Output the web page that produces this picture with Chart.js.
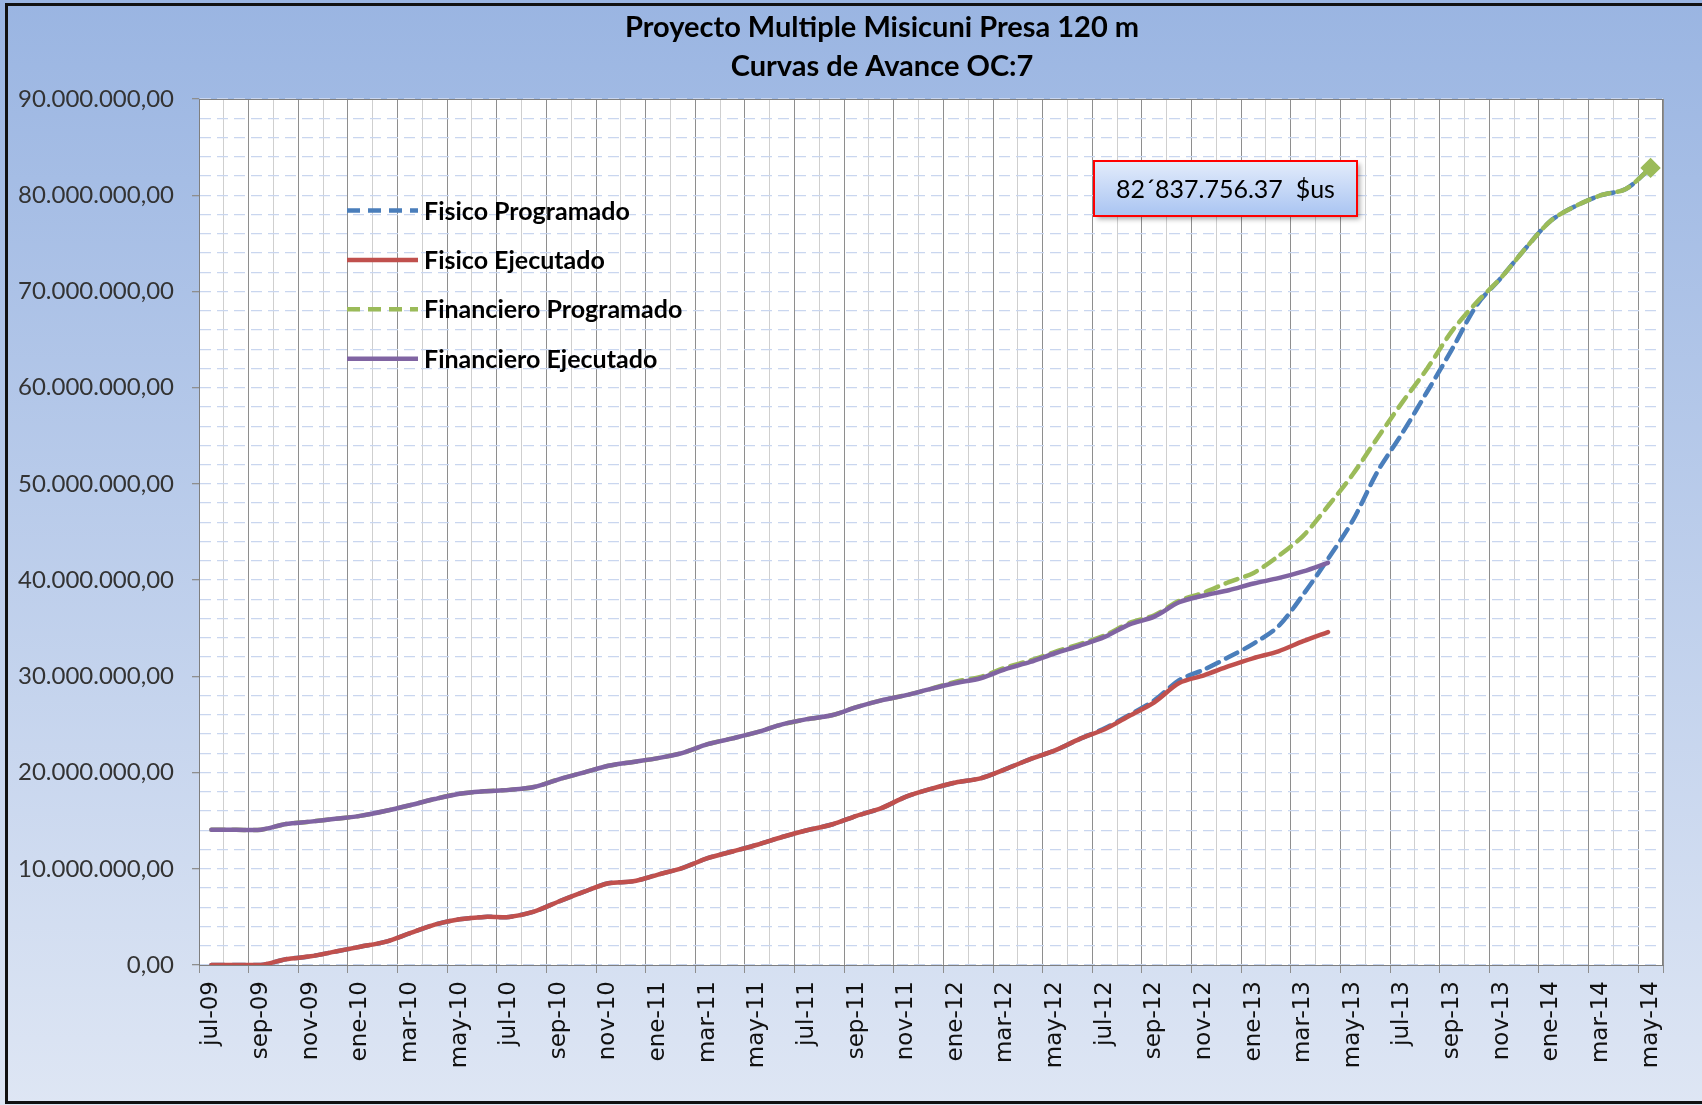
<!DOCTYPE html>
<html>
<head>
<meta charset="utf-8">
<title>Curvas de Avance OC:7</title>
<script src="https://cdn.jsdelivr.net/npm/chart.js@4.4.1/dist/chart.umd.min.js"></script>
<style>
  html, body { margin: 0; padding: 0; background: #ffffff; }
  #wrap { width: 1702px; height: 1105px; }
</style>
</head>
<body>
<div id="wrap"><canvas id="curvas" width="1702" height="1105"></canvas></div>
<script>
// datos (millones de $us), jul-09 .. may-14
const meses = [
  'jul-09','ago-09','sep-09','oct-09','nov-09','dic-09',
  'ene-10','feb-10','mar-10','abr-10','may-10','jun-10','jul-10','ago-10','sep-10','oct-10','nov-10','dic-10',
  'ene-11','feb-11','mar-11','abr-11','may-11','jun-11','jul-11','ago-11','sep-11','oct-11','nov-11','dic-11',
  'ene-12','feb-12','mar-12','abr-12','may-12','jun-12','jul-12','ago-12','sep-12','oct-12','nov-12','dic-12',
  'ene-13','feb-13','mar-13','abr-13','may-13','jun-13','jul-13','ago-13','sep-13','oct-13','nov-13','dic-13',
  'ene-14','feb-14','mar-14','abr-14','may-14'
];

const fisicoProgramado = [
  0, 0, 0, 0.6, 0.9, 1.4, 1.9, 2.4, 3.3, 4.2, 4.75, 5.0, 5.0, 5.55, 6.6, 7.6, 8.5, 8.7, 9.4, 10.1,
  11.1, 11.8, 12.5, 13.3, 14.0, 14.6, 15.5, 16.3, 17.5, 18.3, 18.97, 19.4, 20.35, 21.4, 22.3, 23.5,
  24.6, 26.0, 27.5, 29.6, 30.7, 32.0, 33.4, 35.2, 38.5, 42.2, 46.2, 51.3, 55.3, 59.6,
  64.0, 68.6, 71.5, 74.6, 77.4, 78.9, 80.0, 80.65, 82.84
];

const fisicoEjecutado = [
  0, 0, 0, 0.6, 0.9, 1.4, 1.9, 2.4, 3.3, 4.2, 4.75, 5.0, 5.0, 5.55, 6.6, 7.6, 8.5, 8.7, 9.4, 10.1,
  11.1, 11.8, 12.5, 13.3, 14.0, 14.6, 15.5, 16.3, 17.5, 18.3, 18.97, 19.4, 20.35, 21.4, 22.3, 23.5,
  24.5, 25.9, 27.3, 29.3, 30.1, 31.05, 31.9, 32.6, 33.65, 34.6
];

const financieroProgramado = [
  14.06, 14.06, 14.06, 14.65, 14.9, 15.2, 15.5, 16.0, 16.6, 17.25, 17.8, 18.05, 18.2, 18.5, 19.3, 20.0,
  20.7, 21.1, 21.5, 22.05, 22.95, 23.55, 24.2, 25.0, 25.55, 25.95, 26.8, 27.5, 28.05, 28.7,
  29.45, 29.95, 30.9, 31.65, 32.55, 33.35, 34.25, 35.55, 36.35, 37.85, 38.7, 39.8, 40.75, 42.5,
  44.6, 47.7, 51.0, 54.8, 58.5, 62.0, 65.9, 68.9, 71.5, 74.6, 77.4, 78.9, 80.0, 80.65, 82.84
];

const financieroEjecutado = [
  14.06, 14.06, 14.06, 14.65, 14.9, 15.2, 15.5, 16.0, 16.6, 17.25, 17.8, 18.05, 18.2, 18.5, 19.3, 20.0,
  20.7, 21.1, 21.5, 22.05, 22.95, 23.55, 24.2, 25.0, 25.55, 25.95, 26.8, 27.5, 28.05, 28.7,
  29.3, 29.8, 30.75, 31.5, 32.4, 33.2, 34.1, 35.4, 36.2, 37.7, 38.4, 38.95, 39.65, 40.2, 40.9, 41.8
];

const titulo = ['Proyecto Multiple Misicuni Presa 120 m', 'Curvas de Avance OC:7'];
const montoTotal = '82\u00B4837.756.37  $us';
const MILLON = 1000000;

const enDolares = arr => arr.map(v => v * MILLON);

// 90.000.000,00
function formatoNumero(v) {
  const ent = Math.round(v).toString().replace(/\B(?=(\d{3})+(?!\d))/g, '.');
  return ent + ',00';
}

const azul = '#4a7ebb', rojo = '#c0504d', verde = '#9bbb59', morado = '#8064a2';

// fondo degradado, marco negro y area blanca
const fondo = {
  id: 'fondo',
  beforeDraw(chart) {
    const { ctx, width, height, chartArea: a } = chart;
    ctx.save();
    const g = ctx.createLinearGradient(0, 0, 0, height);
    g.addColorStop(0, '#9ab5e2');
    g.addColorStop(1, '#dee6f4');
    ctx.fillStyle = g;
    ctx.fillRect(0, 0, width, height);
    ctx.fillStyle = '#ffffff';
    ctx.fillRect(a.left, a.top, a.right - a.left, a.bottom - a.top);
    ctx.strokeStyle = '#111111';
    ctx.lineWidth = 3;
    ctx.beginPath();
    ctx.moveTo(width + 5, 4.5);
    ctx.lineTo(6.5, 4.5);
    ctx.lineTo(6.5, height - 2.5);
    ctx.lineTo(width + 5, height - 2.5);
    ctx.stroke();

    // titulo en dos lineas (algo a la derecha del centro, como el original)
    ctx.fillStyle = '#000000';
    ctx.font = 'bold 29px Lato';
    ctx.textAlign = 'center';
    ctx.textBaseline = 'middle';
    ctx.fillText(titulo[0], 882, 28);
    ctx.fillText(titulo[1], 882, 67);
    ctx.restore();
  },
  beforeDatasetsDraw(chart) {
    const { ctx, chartArea: a } = chart;
    ctx.save();
    ctx.strokeStyle = '#7f7f7f';
    ctx.lineWidth = 1;
    ctx.strokeRect(a.left + 0.5, a.top + 0.5, a.right - a.left - 1, a.bottom - a.top);
    ctx.restore();
  }
};

// leyenda dentro del area de trazado
const leyenda = {
  id: 'leyenda',
  afterDatasetsDraw(chart) {
    const { ctx, chartArea: a } = chart;
    ctx.save();
    chart.data.datasets.forEach((ds, k) => {
      const y = a.top + 111.5 + k * 49.4;
      ctx.strokeStyle = ds.borderColor;
      ctx.lineWidth = 4.5;
      ctx.setLineDash(ds.borderDash || []);
      ctx.beginPath();
      ctx.moveTo(a.left + 148, y);
      ctx.lineTo(a.left + 219, y);
      ctx.stroke();
      ctx.setLineDash([]);
      ctx.fillStyle = '#000000';
      ctx.font = 'bold 25px Lato';
      ctx.textBaseline = 'middle';
      ctx.textAlign = 'left';
      ctx.fillText(ds.label, a.left + 225, y + 1);
    });
    ctx.restore();
  }
};

// cuadro con el monto total
const cuadroMonto = {
  id: 'cuadroMonto',
  afterDraw(chart) {
    const { ctx, chartArea: a } = chart;
    const x = a.left + 895, y = a.top + 62, w = 263, h = 55;
    ctx.save();
    ctx.shadowColor = 'rgba(0,0,0,0.35)';
    ctx.shadowBlur = 5;
    ctx.shadowOffsetX = 3;
    ctx.shadowOffsetY = 3;
    const g = ctx.createLinearGradient(0, y, 0, y + h);
    g.addColorStop(0, '#e3ecfb');
    g.addColorStop(1, '#a9c4f2');
    ctx.fillStyle = g;
    ctx.fillRect(x, y, w, h);
    ctx.shadowColor = 'transparent';
    ctx.strokeStyle = '#ff0000';
    ctx.lineWidth = 2;
    ctx.strokeRect(x, y, w, h);
    ctx.fillStyle = '#000000';
    ctx.font = '25px Lato';
    ctx.textAlign = 'center';
    ctx.textBaseline = 'middle';
    ctx.fillText(montoTotal, x + w / 2, y + h / 2 + 1);
    ctx.restore();
  }
};

const serie = (label, data, color, dash) => ({
  label: label,
  data: enDolares(data),
  borderColor: color,
  backgroundColor: color,
  borderWidth: 4.5,
  borderDash: dash,
  borderCapStyle: 'round',
  tension: 0.3,
  fill: false,
  pointRadius: 0,
  pointHoverRadius: 0
});

const dsFisProg = serie('Fisico Programado', fisicoProgramado, azul, [13, 8]);
const dsFisEjec = serie('Fisico Ejecutado', fisicoEjecutado, rojo, []);
const dsFinProg = serie('Financiero Programado', financieroProgramado, verde, [13, 8]);
const dsFinEjec = serie('Financiero Ejecutado', financieroEjecutado, morado, []);
dsFisProg.order = 3; dsFisEjec.order = 1; dsFinProg.order = 2; dsFinEjec.order = 0;
// rombo al final de la curva programada
dsFinProg.pointStyle = 'rectRot';
dsFinProg.pointRadius = ctx => (ctx.dataIndex === financieroProgramado.length - 1 ? 7 : 0);

new Chart(document.getElementById('curvas').getContext('2d'), {
  type: 'line',
  data: {
    labels: meses,
    datasets: [dsFisProg, dsFisEjec, dsFinProg, dsFinEjec]
  },
  options: {
    responsive: false,
    animation: false,
    devicePixelRatio: 1,
    layout: { padding: { left: 0, right: 39, top: 99, bottom: 0 } },
    plugins: {
      legend: { display: false },
      tooltip: { enabled: false },
      title: { display: false }
    },
    scales: {
      x: {
        type: 'category',
        offset: true,
        afterFit: s => { s.height = 140; },
        grid: {
          offset: true,
          color: c => (c.index === undefined || c.index % 2 === 0 ? '#8e8e8e' : '#cfcfcf'),
          tickColor: c => (c.index === undefined || c.index % 2 === 0 ? '#8e8e8e' : 'transparent'),
          tickLength: 8,
          lineWidth: 1
        },
        border: { color: '#7f7f7f', width: 1 },
        ticks: {
          autoSkip: false,
          minRotation: 90,
          maxRotation: 90,
          padding: 8,
          color: '#111111',
          font: { family: 'DejaVu Sans', size: 23 },
          callback: function (v, i) { return i % 2 === 0 ? this.getLabelForValue(v) : ''; }
        }
      },
      y: {
        min: 0,
        max: 90 * MILLON,
        afterFit: s => { s.width = 199; },
        grid: {
          color: '#c9d6ef',
          lineWidth: 1.3,
          tickColor: c => (c.tick && c.tick.value % (10 * MILLON) === 0 ? '#8e8e8e' : 'transparent'),
          tickLength: 7
        },
        border: { color: '#7f7f7f', width: 1, dash: [11, 6] },
        ticks: {
          stepSize: 2 * MILLON,
          autoSkip: false,
          padding: 18,
          color: '#333333',
          font: { family: 'Lato', size: 24 },
          callback: v => (v % (10 * MILLON) === 0 ? formatoNumero(v) : '')
        }
      }
    }
  },
  plugins: [fondo, leyenda, cuadroMonto]
});
</script>
</body>
</html>
